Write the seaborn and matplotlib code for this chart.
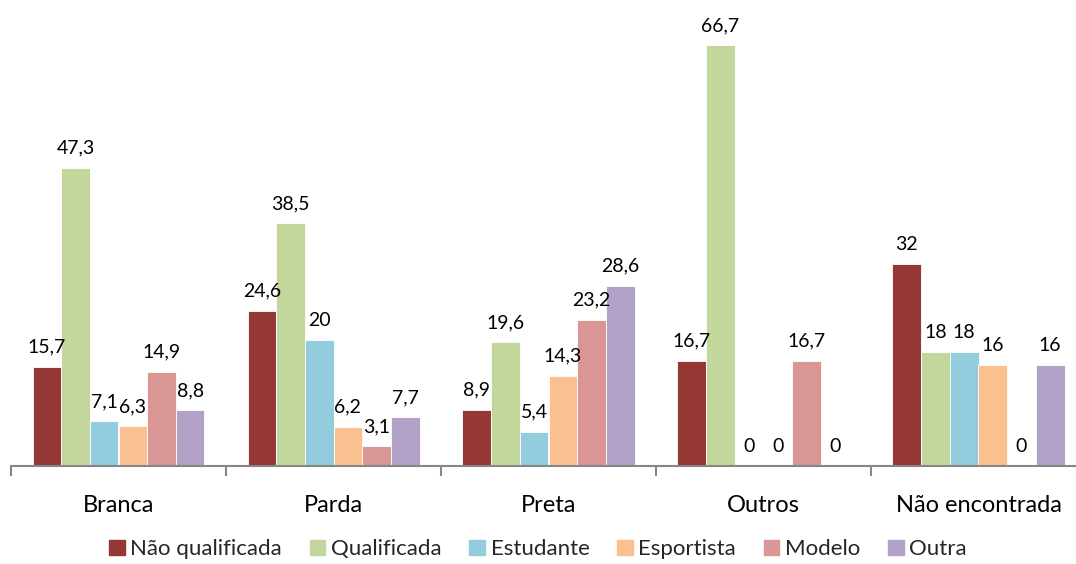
import numpy as np
import pandas as pd
import matplotlib
matplotlib.use("Agg")
import matplotlib.pyplot as plt
import seaborn as sns
from matplotlib.ticker import FixedLocator

categorias = ['Branca', 'Parda', 'Preta', 'Outros', 'Não encontrada']
series = ['Não qualificada', 'Qualificada', 'Estudante', 'Esportista', 'Modelo', 'Outra']
nao_qualificada = [15.7, 24.6, 8.9, 16.7, 32]
qualificada = [47.3, 38.5, 19.6, 66.7, 18]
estudante = [7.1, 20, 5.4, 0, 18]
esportista = [6.3, 6.2, 14.3, 0, 16]
modelo = [14.9, 3.1, 23.2, 16.7, 0]
outra = [8.8, 7.7, 28.6, 0, 16]
cores = ['#953735', '#C3D69B', '#93CDDD', '#FAC090', '#D99694', '#B3A2C7']

valores = [nao_qualificada, qualificada, estudante, esportista, modelo, outra]
df = pd.DataFrame([
    {'Categoria': c, 'Serie': s, 'Valor': v[i]}
    for s, v in zip(series, valores)
    for i, c in enumerate(categorias)
])

sns.set_theme(style="white")
plt.rcParams['font.family'] = ['Lato', 'DejaVu Sans']

fig = plt.figure(figsize=(10.76, 5.64), dpi=100)
W, H = 1076, 564
ax = fig.add_axes([11 / W, 98 / H, 1075 / W, (70 * 6.31) / H])

sns.barplot(data=df, x='Categoria', y='Valor', hue='Serie', order=categorias,
            hue_order=series, palette=cores, width=0.8, saturation=1,
            edgecolor='white', linewidth=0.6, legend=False, ax=ax)

for container in ax.containers:
    for bar in container:
        h = bar.get_height()
        txt = ('%g' % h).replace('.', ',')
        ax.annotate(txt, (bar.get_x() + bar.get_width() / 2, h),
                    xytext=(0, 8), textcoords='offset points',
                    ha='center', va='bottom', fontsize=14, color='black')

ax.set_xlim(-0.5, 4.5)
ax.set_ylim(0, 70)
ax.set_xlabel('')
ax.set_ylabel('')
ax.set_yticks([])
for s in ['top', 'right', 'left']:
    ax.spines[s].set_visible(False)
ax.spines['bottom'].set_color('#868686')
ax.spines['bottom'].set_linewidth(1.5)
ax.tick_params(axis='x', which='major', bottom=True, length=0, pad=21,
               labelsize=17, labelcolor='black')
ax.xaxis.set_minor_locator(FixedLocator(np.arange(-0.5, 5, 1)))
ax.tick_params(axis='x', which='minor', bottom=True, length=7, width=1.5,
               color='#868686', direction='out')

handles = [plt.Rectangle((0, 0), 1, 1, color=c) for c in cores]
fig.legend(handles, series, loc='center', bbox_to_anchor=(0.5, 0.026), ncol=6,
           frameon=False, fontsize=16, handlelength=0.7, handleheight=0.7,
           handletextpad=0.25, columnspacing=1.25)

fig.savefig('out.png', dpi=100)
